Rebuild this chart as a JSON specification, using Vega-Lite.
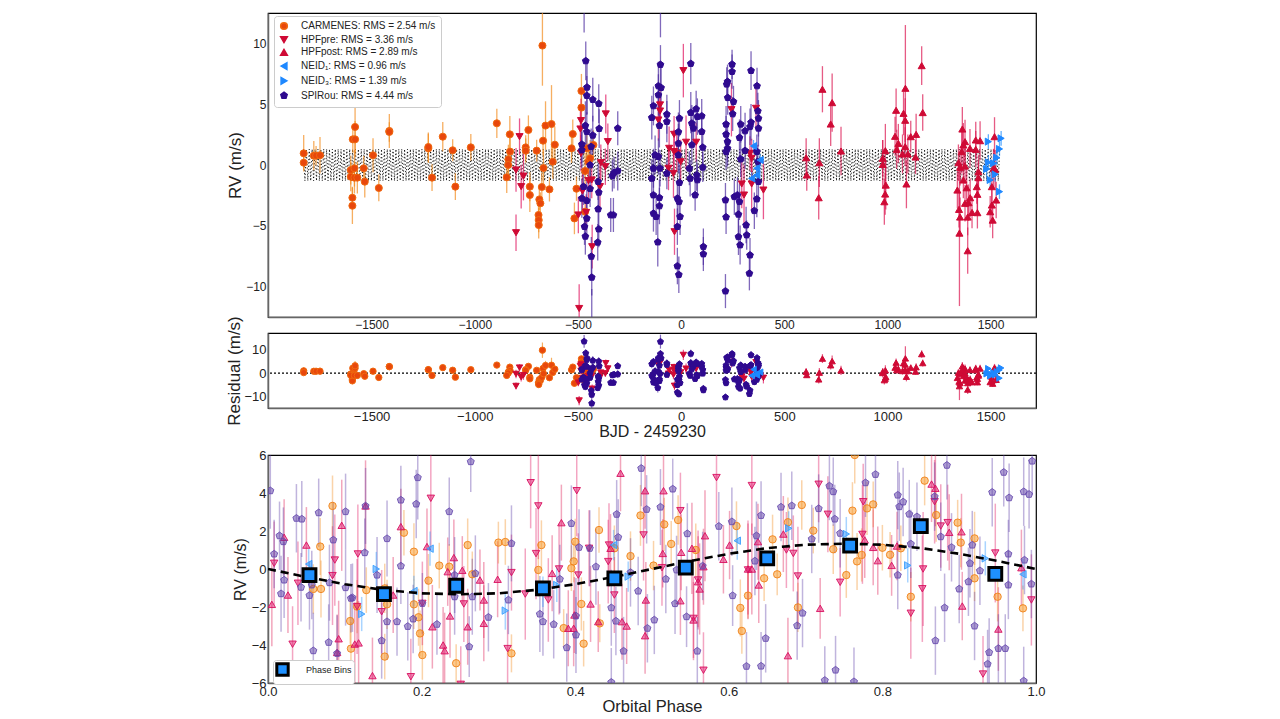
{"$schema":"https://vega.github.io/schema/vega-lite/v6.json","background":"white","padding":{"left":225,"top":12,"right":0,"bottom":0},"config":{"font":"Liberation Sans","view":{"stroke":"black","strokeWidth":1.2},"axis":{"grid":false,"ticks":false,"domainColor":"#666","domainWidth":1.5,"labelColor":"#222","titleColor":"#222","titleFontWeight":"normal","labelPadding":2,"labelFlush":false}},
"datasets":{
"zero":[{"y":0}],
"rv":[
{"s":"C","t":-1829,"v":0.96,"e":1.5},{"s":"C","t":-1829,"v":0.19,"e":0.6},{"s":"C","t":-1780,"v":0.77,"e":1.2},{"s":"C","t":-1769,"v":0.77,"e":0.8},{"s":"C","t":-1750,"v":0.8,"e":1.5},{"s":"C","t":-1593,"v":-2.69,"e":0.9},{"s":"C","t":-1593,"v":-3.35,"e":1.5},{"s":"C","t":-1601,"v":-0.41,"e":1.2},{"s":"C","t":-1583,"v":-0.27,"e":1.5},{"s":"C","t":-1601,"v":-0.96,"e":1.2},{"s":"C","t":-1583,"v":-1.04,"e":1.3},{"s":"C","t":-1569,"v":-1.04,"e":1.3},{"s":"C","t":-1591,"v":2.11,"e":1.1},{"s":"C","t":-1580,"v":2.11,"e":1.5},{"s":"C","t":-1580,"v":3.13,"e":2.1},{"s":"C","t":-1538,"v":-0.27,"e":1},{"s":"C","t":-1533,"v":-1.37,"e":1.3},{"s":"C","t":-1493,"v":0.8,"e":1.4},{"s":"C","t":-1465,"v":-1.89,"e":1.1},{"s":"C","t":-1414,"v":2.8,"e":1.4},{"s":"C","t":-1414,"v":2.72,"e":0.8},{"s":"C","t":-1225,"v":1.37,"e":1.2},{"s":"C","t":-1225,"v":1.48,"e":1.2},{"s":"C","t":-1207,"v":-1.04,"e":1.1},{"s":"C","t":-1155,"v":2.33,"e":1.2},{"s":"C","t":-1107,"v":1.21,"e":0.9},{"s":"C","t":-1094,"v":-1.78,"e":1.1},{"s":"C","t":-1019,"v":1.45,"e":1.1},{"s":"C","t":-893,"v":3.43,"e":1.2},{"s":"C","t":-830,"v":2.52,"e":1.5},{"s":"C","t":-829,"v":1.1,"e":1.3},{"s":"C","t":-837,"v":0.47,"e":1.2},{"s":"C","t":-838,"v":0,"e":1},{"s":"C","t":-845,"v":-1.01,"e":1.3},{"s":"C","t":-733,"v":-1.78,"e":1.2},{"s":"C","t":-733,"v":-2.47,"e":1.4},{"s":"C","t":-740,"v":2.88,"e":1.2},{"s":"C","t":-753,"v":1.45,"e":1},{"s":"C","t":-753,"v":1.18,"e":1},{"s":"C","t":-700,"v":1.18,"e":0.9},{"s":"C","t":-687,"v":-2.83,"e":0.9},{"s":"C","t":-682,"v":-3.15,"e":0.9},{"s":"C","t":-691,"v":-4.11,"e":1},{"s":"C","t":-690,"v":-4.53,"e":1},{"s":"C","t":-690,"v":-4.94,"e":1.1},{"s":"C","t":-675,"v":-1.81,"e":1.2},{"s":"C","t":-669,"v":2,"e":1.2},{"s":"C","t":-667,"v":-0.25,"e":1.5},{"s":"C","t":-672,"v":9.82,"e":3.3},{"s":"C","t":-638,"v":-2,"e":1},{"s":"C","t":-657,"v":3.24,"e":2},{"s":"C","t":-628,"v":3.37,"e":3.2},{"s":"C","t":-622,"v":0.27,"e":1.4},{"s":"C","t":-612,"v":1.67,"e":1.5},{"s":"C","t":-531,"v":1.37,"e":1.2},{"s":"C","t":-525,"v":2.55,"e":1.2},{"s":"C","t":-483,"v":6.09,"e":1.4},{"s":"C","t":-483,"v":4.72,"e":1.5},{"s":"C","t":-517,"v":-4.39,"e":1.3},{"s":"C","t":-507,"v":-1.95,"e":1},{"s":"C","t":-465,"v":-0.49,"e":1.5},{"s":"C","t":-449,"v":0.27,"e":1.5},{"s":"C","t":-441,"v":0.55,"e":1.5},{"s":"C","t":-457,"v":1.37,"e":1.2},{"s":"C","t":-425,"v":1.65,"e":1.2},{"s":"C","t":-465,"v":-3.84,"e":1.3},
{"s":"H","t":-800,"v":-5.57,"e":1.5},{"s":"H","t":-800,"v":-0.41,"e":1.8},{"s":"H","t":-783,"v":2.33,"e":1.5},{"s":"H","t":-775,"v":-1.78,"e":1.8},{"s":"H","t":-764,"v":-0.91,"e":2},{"s":"H","t":-485,"v":3.65,"e":1.8},{"s":"H","t":-488,"v":2.96,"e":1.6},{"s":"H","t":-494,"v":-11.8,"e":2},{"s":"H","t":-498,"v":-4.11,"e":1.5},{"s":"H","t":-478,"v":-2.14,"e":1.5},{"s":"H","t":-460,"v":-3.9,"e":1.5},{"s":"H","t":-449,"v":-1.29,"e":1.5},{"s":"H","t":-433,"v":-1.23,"e":1.5},{"s":"H","t":-431,"v":-6.72,"e":1.8},{"s":"H","t":-393,"v":-1.78,"e":1.8},{"s":"H","t":-389,"v":0.19,"e":1.5},{"s":"H","t":-367,"v":-0.14,"e":1.5},{"s":"H","t":-365,"v":4.2,"e":1.6},{"s":"H","t":-355,"v":1.92,"e":1.5},{"s":"H","t":-485,"v":0.96,"e":1.5},{"s":"H","t":-102,"v":4.94,"e":1.5},{"s":"H","t":-102,"v":4.44,"e":1.4},{"s":"H","t":-110,"v":3.7,"e":1.7},{"s":"H","t":-34,"v":2.52,"e":1.5},{"s":"H","t":-58,"v":1.37,"e":1.8},{"s":"H","t":-34,"v":1.1,"e":1.8},{"s":"H","t":-21,"v":0.96,"e":1.5},{"s":"H","t":-2,"v":0.27,"e":1.8},{"s":"H","t":-61,"v":-0.27,"e":1.8},{"s":"H","t":-37,"v":-0.69,"e":2},{"s":"H","t":24,"v":1.87,"e":2.2},{"s":"H","t":73,"v":1.87,"e":1.6},{"s":"H","t":11,"v":7.76,"e":2.2},{"s":"H","t":-32,"v":-5.49,"e":1.9},{"s":"H","t":244,"v":4.55,"e":2.2},{"s":"H","t":363,"v":4.66,"e":1.6},{"s":"H","t":334,"v":0.96,"e":1.4},{"s":"H","t":342,"v":0.55,"e":1.6},{"s":"H","t":294,"v":-1.56,"e":2},{"s":"H","t":305,"v":-2.47,"e":2.5},{"s":"H","t":342,"v":-1.56,"e":2.3},{"s":"H","t":399,"v":-2.06,"e":2.4},
{"s":"P","t":685,"v":6.23,"e":1.9},{"s":"P","t":732,"v":5.13,"e":2.4},{"s":"P","t":725,"v":3.37,"e":1.8},{"s":"P","t":775,"v":1.15,"e":2},{"s":"P","t":606,"v":0.6,"e":1.6},{"s":"P","t":609,"v":-0.82,"e":1.3},{"s":"P","t":670,"v":0.19,"e":2},{"s":"P","t":667,"v":-2.69,"e":1.8},{"s":"P","t":977,"v":0.55,"e":1.5},{"s":"P","t":977,"v":0.05,"e":2},{"s":"P","t":990,"v":1.18,"e":2.2},{"s":"P","t":992,"v":-1.65,"e":2},{"s":"P","t":989,"v":-2.39,"e":1.7},{"s":"P","t":985,"v":-3.02,"e":1.9},{"s":"P","t":1042,"v":4.5,"e":1.8},{"s":"P","t":1078,"v":4.25,"e":1.8},{"s":"P","t":1086,"v":3.68,"e":1.8},{"s":"P","t":1037,"v":2.36,"e":1.6},{"s":"P","t":1053,"v":1.78,"e":1.6},{"s":"P","t":1045,"v":1.29,"e":1.6},{"s":"P","t":1113,"v":2.33,"e":1.3},{"s":"P","t":1139,"v":2.52,"e":1.7},{"s":"P","t":1086,"v":1.51,"e":1.6},{"s":"P","t":1073,"v":0.91,"e":1.6},{"s":"P","t":1099,"v":0.91,"e":1.6},{"s":"P","t":1136,"v":0.66,"e":1.4},{"s":"P","t":1092,"v":-1.56,"e":2},{"s":"P","t":1087,"v":6.31,"e":5.2},{"s":"P","t":1166,"v":8.17,"e":1.6},{"s":"P","t":1171,"v":4.31,"e":1.5},{"s":"P","t":1363,"v":2.96,"e":1.8},{"s":"P","t":1376,"v":1.92,"e":1.8},{"s":"P","t":1368,"v":1.65,"e":1.8},{"s":"P","t":1360,"v":1.1,"e":1.8},{"s":"P","t":1400,"v":1.37,"e":1.6},{"s":"P","t":1428,"v":2.06,"e":1.5},{"s":"P","t":1428,"v":1.29,"e":1.5},{"s":"P","t":1449,"v":2,"e":1.6},{"s":"P","t":1344,"v":0.19,"e":1.5},{"s":"P","t":1352,"v":-0.19,"e":1.5},{"s":"P","t":1376,"v":-0.08,"e":1.5},{"s":"P","t":1368,"v":-1.23,"e":1.5},{"s":"P","t":1384,"v":-1.87,"e":1.6},{"s":"P","t":1339,"v":-2.06,"e":1.5},{"s":"P","t":1401,"v":-2.69,"e":1.6},{"s":"P","t":1376,"v":-3.15,"e":1.5},{"s":"P","t":1393,"v":-3.1,"e":1.5},{"s":"P","t":1347,"v":-3.65,"e":1.5},{"s":"P","t":1352,"v":-4.28,"e":1.6},{"s":"P","t":1389,"v":-4.28,"e":1.5},{"s":"P","t":1410,"v":-3.9,"e":1.3},{"s":"P","t":1436,"v":-3.92,"e":1.3},{"s":"P","t":1436,"v":-2.41,"e":1.5},{"s":"P","t":1433,"v":-1.78,"e":1.4},{"s":"P","t":1441,"v":-0.55,"e":1.4},{"s":"P","t":1441,"v":-1.04,"e":1.4},{"s":"P","t":1349,"v":-5.6,"e":6},{"s":"P","t":1389,"v":-7.05,"e":1.9},{"s":"P","t":1519,"v":2.33,"e":1.6},{"s":"P","t":1514,"v":-0.27,"e":1.6},{"s":"P","t":1522,"v":-0.36,"e":1.6},{"s":"P","t":1506,"v":-1.78,"e":1.5},{"s":"P","t":1506,"v":-3.29,"e":1.5},{"s":"P","t":1527,"v":-2.88,"e":1.5},{"s":"P","t":1498,"v":-3.84,"e":1.3},{"s":"P","t":1510,"v":-4.53,"e":1.5},
{"s":"S","t":-462,"v":8.56,"e":1.6},{"s":"S","t":-456,"v":6.39,"e":2.2},{"s":"S","t":-457,"v":5.71,"e":1.6},{"s":"S","t":-428,"v":5.38,"e":1.8},{"s":"S","t":-399,"v":5.05,"e":1.6},{"s":"S","t":-464,"v":3.24,"e":2},{"s":"S","t":-397,"v":2.99,"e":1.6},{"s":"S","t":-307,"v":3.02,"e":1.4},{"s":"S","t":-457,"v":2.74,"e":1.6},{"s":"S","t":-428,"v":2.44,"e":1.6},{"s":"S","t":-481,"v":1.7,"e":1.5},{"s":"S","t":-481,"v":1.23,"e":1.5},{"s":"S","t":-436,"v":1.51,"e":1.5},{"s":"S","t":-441,"v":0,"e":1.5},{"s":"S","t":-473,"v":-1.78,"e":1.5},{"s":"S","t":-402,"v":-1.37,"e":1.5},{"s":"S","t":-441,"v":-1.95,"e":1.5},{"s":"S","t":-481,"v":-2.74,"e":1.6},{"s":"S","t":-457,"v":-2.93,"e":1.6},{"s":"S","t":-399,"v":-2.25,"e":1.6},{"s":"S","t":-402,"v":-3.62,"e":1.6},{"s":"S","t":-457,"v":-4.39,"e":1.4},{"s":"S","t":-468,"v":-5.07,"e":1.5},{"s":"S","t":-399,"v":-5.27,"e":1.5},{"s":"S","t":-464,"v":-5.87,"e":1.5},{"s":"S","t":-404,"v":-6.36,"e":1.5},{"s":"S","t":-435,"v":-7.52,"e":1.6},{"s":"S","t":-433,"v":-9.24,"e":1.5},{"s":"S","t":-341,"v":-4.11,"e":1.4},{"s":"S","t":-328,"v":-4.11,"e":1.4},{"s":"S","t":-333,"v":-0.88,"e":1.3},{"s":"S","t":-325,"v":-0.63,"e":1.3},{"s":"S","t":-307,"v":-0.49,"e":1.6},{"s":"S","t":-470,"v":13.6,"e":2.7},{"s":"S","t":-433,"v":-13,"e":2.8},{"s":"S","t":-100,"v":8.26,"e":1.6},{"s":"S","t":-110,"v":6.5,"e":2},{"s":"S","t":-97,"v":6.36,"e":2},{"s":"S","t":-110,"v":5.76,"e":1.7},{"s":"S","t":-134,"v":4.86,"e":1.6},{"s":"S","t":-142,"v":3.9,"e":1.8},{"s":"S","t":-69,"v":4.17,"e":1.6},{"s":"S","t":-69,"v":3.57,"e":1.7},{"s":"S","t":-105,"v":3.24,"e":1.8},{"s":"S","t":-8,"v":3.84,"e":1.5},{"s":"S","t":-13,"v":2.72,"e":1.6},{"s":"S","t":47,"v":8.34,"e":1.7},{"s":"S","t":47,"v":4.31,"e":1.7},{"s":"S","t":73,"v":4.61,"e":1.5},{"s":"S","t":79,"v":3.98,"e":1.5},{"s":"S","t":52,"v":3.43,"e":1.5},{"s":"S","t":60,"v":3.02,"e":1.5},{"s":"S","t":100,"v":4.03,"e":1.4},{"s":"S","t":100,"v":2.74,"e":1.4},{"s":"S","t":-13,"v":1.78,"e":1.6},{"s":"S","t":52,"v":1.65,"e":1.6},{"s":"S","t":105,"v":1.45,"e":1.4},{"s":"S","t":40,"v":-0.27,"e":1.4},{"s":"S","t":44,"v":-1.1,"e":1.5},{"s":"S","t":76,"v":-0.82,"e":1.3},{"s":"S","t":79,"v":-1.23,"e":1.3},{"s":"S","t":105,"v":-0.19,"e":1.2},{"s":"S","t":68,"v":-2.47,"e":1.3},{"s":"S","t":-69,"v":-0.69,"e":1.3},{"s":"S","t":-126,"v":0.82,"e":1.6},{"s":"S","t":-110,"v":0.69,"e":1.5},{"s":"S","t":-134,"v":-0.27,"e":1.6},{"s":"S","t":-102,"v":-0.27,"e":1.5},{"s":"S","t":-142,"v":-1.1,"e":1.6},{"s":"S","t":-134,"v":-2.47,"e":1.5},{"s":"S","t":-105,"v":-2.69,"e":1.5},{"s":"S","t":-105,"v":-3.37,"e":1.5},{"s":"S","t":-134,"v":-3.98,"e":1.5},{"s":"S","t":-121,"v":-4.25,"e":1.5},{"s":"S","t":-113,"v":-6.34,"e":2},{"s":"S","t":-13,"v":0.82,"e":1.5},{"s":"S","t":-8,"v":-1.45,"e":1.5},{"s":"S","t":-18,"v":-2.74,"e":1.5},{"s":"S","t":-10,"v":-3.02,"e":1.5},{"s":"S","t":-5,"v":-4.25,"e":1.5},{"s":"S","t":-18,"v":-5.07,"e":1.5},{"s":"S","t":-18,"v":-8.31,"e":1.5},{"s":"S","t":-11,"v":-9.02,"e":1.5},{"s":"S","t":108,"v":-6.72,"e":1.5},{"s":"S","t":108,"v":-7.32,"e":1.4},{"s":"S","t":-100,"v":13.5,"e":3},{"s":"S","t":215,"v":-10.37,"e":1.4},{"s":"S","t":247,"v":8.28,"e":1.2},{"s":"S","t":247,"v":7.68,"e":1.4},{"s":"S","t":225,"v":6.86,"e":1.4},{"s":"S","t":221,"v":6.64,"e":1.4},{"s":"S","t":226,"v":5.54,"e":1.4},{"s":"S","t":254,"v":5.21,"e":1.3},{"s":"S","t":250,"v":4.2,"e":1.4},{"s":"S","t":218,"v":3.35,"e":1.5},{"s":"S","t":289,"v":3.35,"e":1.5},{"s":"S","t":218,"v":2.52,"e":1.5},{"s":"S","t":225,"v":1.92,"e":1.5},{"s":"S","t":225,"v":1.37,"e":1.5},{"s":"S","t":218,"v":1.1,"e":1.5},{"s":"S","t":283,"v":2.25,"e":1.5},{"s":"S","t":310,"v":2.8,"e":1.5},{"s":"S","t":339,"v":7.76,"e":1.6},{"s":"S","t":368,"v":6.5,"e":1.5},{"s":"S","t":372,"v":4.44,"e":1.5},{"s":"S","t":375,"v":3.84,"e":1.5},{"s":"S","t":339,"v":3.51,"e":1.5},{"s":"S","t":334,"v":3.15,"e":1.5},{"s":"S","t":375,"v":3.02,"e":1.5},{"s":"S","t":310,"v":1.18,"e":1.5},{"s":"S","t":289,"v":0.49,"e":1.5},{"s":"S","t":258,"v":-2.61,"e":1.5},{"s":"S","t":273,"v":-2.47,"e":1.5},{"s":"S","t":283,"v":-3.02,"e":1.5},{"s":"S","t":215,"v":-2.88,"e":1.4},{"s":"S","t":218,"v":-4.28,"e":1.4},{"s":"S","t":278,"v":-4.06,"e":1.5},{"s":"S","t":355,"v":-3.76,"e":1.5},{"s":"S","t":367,"v":-2.8,"e":1.5},{"s":"S","t":315,"v":-4.94,"e":1.5},{"s":"S","t":318,"v":-5.76,"e":1.2},{"s":"S","t":278,"v":-5.9,"e":1.5},{"s":"S","t":286,"v":-6.58,"e":1.6},{"s":"S","t":334,"v":-7.41,"e":1.4},{"s":"S","t":331,"v":-8.91,"e":1.4},{"s":"S","t":367,"v":1.1,"e":1.4},{"s":"S","t":372,"v":0.27,"e":1.4},{"s":"S","t":375,"v":-1.37,"e":1.4},
{"s":"N1","t":351,"v":1.56,"e":0.5},{"s":"N1","t":383,"v":0.41,"e":0.5},{"s":"N1","t":367,"v":-0.27,"e":0.5},{"s":"N1","t":367,"v":-0.82,"e":0.5},{"s":"N1","t":342,"v":-1.1,"e":0.5},{"s":"N3","t":1489,"v":1.92,"e":0.6},{"s":"N3","t":1551,"v":2.19,"e":0.6},{"s":"N3","t":1543,"v":1.32,"e":0.6},{"s":"N3","t":1530,"v":0.6,"e":0.6},{"s":"N3","t":1489,"v":0.22,"e":0.6},{"s":"N3","t":1514,"v":0.14,"e":0.5},{"s":"N3","t":1481,"v":-0.33,"e":0.6},{"s":"N3","t":1522,"v":-0.77,"e":0.6},{"s":"N3","t":1498,"v":-1.23,"e":0.6},{"s":"N3","t":1543,"v":-2.19,"e":0.6}
],
"phase":[
{"s":"C","p":0.084,"v":3.32,"e":1.6},{"s":"C","p":0.068,"v":1.18,"e":1.5},{"s":"C","p":0.059,"v":-1.05,"e":1.3},{"s":"C","p":0.069,"v":-1.05,"e":1.5},{"s":"C","p":0.107,"v":-2.74,"e":1.2},{"s":"C","p":0.108,"v":-4.19,"e":1.4},{"s":"C","p":0.116,"v":-1.98,"e":1.4},{"s":"C","p":0.128,"v":-1.11,"e":1.2},{"s":"C","p":0.152,"v":-4.61,"e":1.2},{"s":"C","p":0.155,"v":-1.86,"e":1.3},{"s":"C","p":0.152,"v":-1.02,"e":1.3},{"s":"C","p":0.177,"v":1.91,"e":1.2},{"s":"C","p":0.19,"v":0.91,"e":1.5},{"s":"C","p":0.19,"v":-1.86,"e":1.3},{"s":"C","p":0.196,"v":-2.54,"e":1.5},{"s":"C","p":0.198,"v":-3.39,"e":1.2},{"s":"C","p":0.201,"v":-4.53,"e":1.3},{"s":"C","p":0.209,"v":-0.61,"e":1.4},{"s":"C","p":0.223,"v":0.18,"e":1.2},{"s":"C","p":0.236,"v":0.12,"e":1.2},{"s":"C","p":0.245,"v":-4.96,"e":1},{"s":"C","p":0.26,"v":1.26,"e":1.4},{"s":"C","p":0.266,"v":-0.28,"e":1.2},{"s":"C","p":0.3,"v":1.39,"e":1.1},{"s":"C","p":0.309,"v":1.42,"e":1.2},{"s":"C","p":0.317,"v":-4.44,"e":1},{"s":"C","p":0.352,"v":-0.05,"e":1.4},{"s":"C","p":0.356,"v":1.26,"e":1.3},{"s":"C","p":0.385,"v":-3.11,"e":1},{"s":"C","p":0.395,"v":0.04,"e":1.2},{"s":"C","p":0.398,"v":0.4,"e":1.1},{"s":"C","p":0.4,"v":1.44,"e":1.2},{"s":"C","p":0.408,"v":-1.84,"e":1.4},{"s":"C","p":0.411,"v":-3.93,"e":1.2},{"s":"C","p":0.431,"v":2.05,"e":1.2},{"s":"C","p":0.432,"v":-2.86,"e":1},{"s":"C","p":0.451,"v":1.09,"e":1.2},{"s":"C","p":0.472,"v":0.68,"e":1.3},{"s":"C","p":0.485,"v":2.82,"e":1.6},{"s":"C","p":0.502,"v":0.18,"e":1.3},{"s":"C","p":0.516,"v":2.35,"e":1.4},{"s":"C","p":0.525,"v":1.32,"e":1.2},{"s":"C","p":0.534,"v":2.58,"e":1.3},{"s":"C","p":0.557,"v":1,"e":1.4},{"s":"C","p":0.61,"v":2.26,"e":1.3},{"s":"C","p":0.625,"v":-1.4,"e":1.2},{"s":"C","p":0.615,"v":-2.05,"e":1.5},{"s":"C","p":0.617,"v":-3.26,"e":1.2},{"s":"C","p":0.646,"v":-0.49,"e":1.2},{"s":"C","p":0.657,"v":1.56,"e":1.3},{"s":"C","p":0.663,"v":-0.28,"e":1.1},{"s":"C","p":0.677,"v":2.46,"e":1.3},{"s":"C","p":0.695,"v":3.37,"e":1.3},{"s":"C","p":0.69,"v":-2.02,"e":1.3},{"s":"C","p":0.71,"v":2.02,"e":1.2},{"s":"C","p":0.736,"v":1.04,"e":1.3},{"s":"C","p":0.753,"v":-0.32,"e":1.2},{"s":"C","p":0.761,"v":3.07,"e":1.5},{"s":"C","p":0.767,"v":0.4,"e":1.5},{"s":"C","p":0.773,"v":0.74,"e":1.4},{"s":"C","p":0.764,"v":6,"e":1.5},{"s":"C","p":0.78,"v":3.19,"e":1.4},{"s":"C","p":0.788,"v":3.4,"e":1.2},{"s":"C","p":0.8,"v":1.12,"e":1.2},{"s":"C","p":0.81,"v":0.75,"e":1.2},{"s":"C","p":0.824,"v":1.09,"e":1.2},{"s":"C","p":0.837,"v":-1.46,"e":1.3},{"s":"C","p":0.855,"v":4.65,"e":1.3},{"s":"C","p":0.87,"v":2.84,"e":1.4},{"s":"C","p":0.898,"v":2.44,"e":1.2},{"s":"C","p":0.902,"v":1.39,"e":1.3},{"s":"C","p":0.92,"v":1.61,"e":1.4},{"s":"C","p":0.92,"v":-0.49,"e":1.2},{"s":"C","p":0.95,"v":-1.46,"e":1.3},{"s":"C","p":0.983,"v":-2.07,"e":1.2},
{"s":"H","p":0.008,"v":0.3,"e":2.2},{"s":"H","p":0.039,"v":-0.75,"e":2.2},{"s":"H","p":0.032,"v":-3.96,"e":2},{"s":"H","p":0.087,"v":0.47,"e":2.4},{"s":"H","p":0.084,"v":-0.35,"e":2.6},{"s":"H","p":0.117,"v":0.79,"e":2.6},{"s":"H","p":0.116,"v":-1.98,"e":2.5},{"s":"H","p":0.148,"v":-2.25,"e":2.2},{"s":"H","p":0.186,"v":-5.67,"e":2},{"s":"H","p":0.212,"v":3.72,"e":2.6},{"s":"H","p":0.201,"v":-1.81,"e":2.2},{"s":"H","p":0.255,"v":-1.84,"e":2},{"s":"H","p":0.251,"v":-6.07,"e":2},{"s":"H","p":0.312,"v":-4.19,"e":2},{"s":"H","p":0.317,"v":-0.19,"e":2},{"s":"H","p":0.335,"v":-1.32,"e":2.4},{"s":"H","p":0.342,"v":4.54,"e":2.4},{"s":"H","p":0.352,"v":3.32,"e":2.8},{"s":"H","p":0.349,"v":0.81,"e":2.4},{"s":"H","p":0.365,"v":-1.63,"e":2.2},{"s":"H","p":0.379,"v":0,"e":2.4},{"s":"H","p":0.402,"v":4.12,"e":2.4},{"s":"H","p":0.404,"v":-0.32,"e":2.2},{"s":"H","p":0.418,"v":1.09,"e":2},{"s":"H","p":0.443,"v":0.39,"e":2.2},{"s":"H","p":0.444,"v":1.26,"e":2.2},{"s":"H","p":0.451,"v":-1.37,"e":2},{"s":"H","p":0.489,"v":1.79,"e":2.4},{"s":"H","p":0.513,"v":0.07,"e":2},{"s":"H","p":0.537,"v":3.07,"e":2},{"s":"H","p":0.56,"v":-0.58,"e":2.6},{"s":"H","p":0.554,"v":-2.6,"e":2.2},{"s":"H","p":0.567,"v":-5.33,"e":2},{"s":"H","p":0.584,"v":4.81,"e":2.4},{"s":"H","p":0.63,"v":4.39,"e":2.6},{"s":"H","p":0.625,"v":-0.05,"e":2.6},{"s":"H","p":0.675,"v":1,"e":2},{"s":"H","p":0.684,"v":0.82,"e":2},{"s":"H","p":0.69,"v":-0.37,"e":2.6},{"s":"H","p":0.717,"v":4.46,"e":2},{"s":"H","p":0.729,"v":2.88,"e":2},{"s":"H","p":0.745,"v":-0.7,"e":1.8},{"s":"H","p":0.774,"v":1.82,"e":2.6},{"s":"H","p":0.775,"v":3.54,"e":2},{"s":"H","p":0.837,"v":-2.33,"e":2.4},{"s":"H","p":0.853,"v":0,"e":3},{"s":"H","p":0.852,"v":-1.04,"e":2.8},{"s":"H","p":0.868,"v":3.54,"e":2.2},{"s":"H","p":0.876,"v":2.26,"e":2.2},{"s":"H","p":0.885,"v":2.44,"e":2},{"s":"H","p":0.931,"v":-5.53,"e":2},{"s":"H","p":0.947,"v":0.84,"e":2.6},{"s":"H","p":0.994,"v":-1.63,"e":2.4},
{"s":"P","p":0.005,"v":-1.86,"e":2.2},{"s":"P","p":0.026,"v":-1.37,"e":2},{"s":"P","p":0.021,"v":1.67,"e":2},{"s":"P","p":0.05,"v":1.26,"e":2},{"s":"P","p":0.096,"v":2.3,"e":2.4},{"s":"P","p":0.092,"v":-3.67,"e":2},{"s":"P","p":0.09,"v":-4.39,"e":2},{"s":"P","p":0.113,"v":-3.95,"e":2.2},{"s":"P","p":0.118,"v":-3.89,"e":2.2},{"s":"P","p":0.127,"v":3.32,"e":2.4},{"s":"P","p":0.136,"v":-5.61,"e":2},{"s":"P","p":0.163,"v":-1.37,"e":2},{"s":"P","p":0.173,"v":2.23,"e":2},{"s":"P","p":0.207,"v":1.18,"e":2},{"s":"P","p":0.214,"v":-3.04,"e":2.2},{"s":"P","p":0.228,"v":-4,"e":2},{"s":"P","p":0.23,"v":-4.3,"e":2},{"s":"P","p":0.237,"v":-2.47,"e":2.2},{"s":"P","p":0.242,"v":0.6,"e":2},{"s":"P","p":0.234,"v":-0.14,"e":1.8},{"s":"P","p":0.253,"v":-0.07,"e":1.8},{"s":"P","p":0.26,"v":-3.04,"e":2},{"s":"P","p":0.276,"v":-0.58,"e":1.6},{"s":"P","p":0.281,"v":-1.63,"e":2},{"s":"P","p":0.281,"v":-2.86,"e":2},{"s":"P","p":0.299,"v":-0.54,"e":2},{"s":"P","p":0.37,"v":-0.23,"e":2},{"s":"P","p":0.382,"v":2.44,"e":2},{"s":"P","p":0.391,"v":-3.12,"e":2},{"s":"P","p":0.398,"v":-3.12,"e":2},{"s":"P","p":0.399,"v":-2.42,"e":2},{"s":"P","p":0.42,"v":-1.84,"e":2},{"s":"P","p":0.43,"v":-2.77,"e":1.6},{"s":"P","p":0.446,"v":1.09,"e":1.8},{"s":"P","p":0.459,"v":5.04,"e":2},{"s":"P","p":0.461,"v":-2.77,"e":2},{"s":"P","p":0.467,"v":-3,"e":2},{"s":"P","p":0.491,"v":-3.51,"e":2},{"s":"P","p":0.491,"v":4.12,"e":2},{"s":"P","p":0.492,"v":-1.63,"e":2},{"s":"P","p":0.515,"v":4.12,"e":2},{"s":"P","p":0.514,"v":0.82,"e":1.8},{"s":"P","p":0.538,"v":0.88,"e":2},{"s":"P","p":0.537,"v":-1.67,"e":1.8},{"s":"P","p":0.552,"v":1.09,"e":2.4},{"s":"P","p":0.569,"v":1.75,"e":2.4},{"s":"P","p":0.567,"v":0.12,"e":2},{"s":"P","p":0.56,"v":-0.67,"e":2.4},{"s":"P","p":0.562,"v":-1.05,"e":2.4},{"s":"P","p":0.554,"v":-2.68,"e":2},{"s":"P","p":0.593,"v":0.51,"e":1.8},{"s":"P","p":0.601,"v":1.26,"e":1.8},{"s":"P","p":0.625,"v":0,"e":2.4},{"s":"P","p":0.63,"v":0,"e":2.4},{"s":"P","p":0.638,"v":1.44,"e":2},{"s":"P","p":0.639,"v":-0.84,"e":2},{"s":"P","p":0.671,"v":1.84,"e":2},{"s":"P","p":0.677,"v":-4.56,"e":2},{"s":"P","p":0.719,"v":-2.07,"e":1.6},{"s":"P","p":0.777,"v":1.53,"e":2},{"s":"P","p":0.788,"v":1.14,"e":2},{"s":"P","p":0.794,"v":0.44,"e":1.8},{"s":"P","p":0.812,"v":0.19,"e":1.6},{"s":"P","p":0.819,"v":1.21,"e":1.8},{"s":"P","p":0.864,"v":4.47,"e":2},{"s":"P","p":0.869,"v":4.25,"e":2},{"s":"P","p":0.887,"v":1.93,"e":2},{"s":"P","p":0.903,"v":1.96,"e":2},{"s":"P","p":0.904,"v":-1.95,"e":1.8},{"s":"P","p":0.951,"v":-3.16,"e":2.2},{"s":"P","p":0.981,"v":0.07,"e":2},
{"s":"S","p":0.003,"v":4.12,"e":2},{"s":"S","p":0.008,"v":0.79,"e":1.8},{"s":"S","p":0.015,"v":1.75,"e":1.8},{"s":"S","p":0.02,"v":1.44,"e":1.8},{"s":"S","p":0.021,"v":-0.58,"e":2},{"s":"S","p":0.017,"v":-1.3,"e":2},{"s":"S","p":0.037,"v":2.67,"e":1.8},{"s":"S","p":0.044,"v":2.63,"e":2},{"s":"S","p":0.043,"v":-0.96,"e":1.8},{"s":"S","p":0.054,"v":-1.39,"e":1.8},{"s":"S","p":0.059,"v":-4.3,"e":2},{"s":"S","p":0.066,"v":2.96,"e":1.8},{"s":"S","p":0.057,"v":-0.84,"e":1.8},{"s":"S","p":0.079,"v":-3.86,"e":2},{"s":"S","p":0.08,"v":-0.72,"e":2},{"s":"S","p":0.085,"v":1.53,"e":2},{"s":"S","p":0.09,"v":-4.44,"e":2},{"s":"S","p":0.101,"v":3.02,"e":2},{"s":"S","p":0.101,"v":-0.98,"e":2},{"s":"S","p":0.108,"v":-1.54,"e":1.8},{"s":"S","p":0.11,"v":-1.51,"e":1.8},{"s":"S","p":0.127,"v":3.32,"e":2},{"s":"S","p":0.126,"v":0.86,"e":1.8},{"s":"S","p":0.142,"v":-0.32,"e":2},{"s":"S","p":0.148,"v":-3.77,"e":2},{"s":"S","p":0.155,"v":1.6,"e":2},{"s":"S","p":0.155,"v":-2.77,"e":2},{"s":"S","p":0.168,"v":-2.77,"e":1.8},{"s":"S","p":0.173,"v":3.63,"e":1.8},{"s":"S","p":0.173,"v":0.16,"e":2},{"s":"S","p":0.182,"v":-3.02,"e":1.8},{"s":"S","p":0.189,"v":-2.63,"e":1.8},{"s":"S","p":0.193,"v":3.42,"e":1.8},{"s":"S","p":0.195,"v":4.81,"e":2.2},{"s":"S","p":0.201,"v":-1.81,"e":1.6},{"s":"S","p":0.22,"v":-2.91,"e":1.6},{"s":"S","p":0.236,"v":3.02,"e":1.8},{"s":"S","p":0.243,"v":-0.32,"e":2},{"s":"S","p":0.243,"v":-1.46,"e":2},{"s":"S","p":0.262,"v":-4.09,"e":1.6},{"s":"S","p":0.264,"v":5.65,"e":1.6},{"s":"S","p":0.266,"v":-1.46,"e":2},{"s":"S","p":0.27,"v":-0.23,"e":2},{"s":"S","p":0.287,"v":-2.54,"e":1.8},{"s":"S","p":0.313,"v":-1.63,"e":1.8},{"s":"S","p":0.317,"v":1.35,"e":2},{"s":"S","p":0.354,"v":-2.37,"e":2},{"s":"S","p":0.358,"v":-2.77,"e":1.8},{"s":"S","p":0.372,"v":-2.91,"e":1.8},{"s":"S","p":0.38,"v":-0.53,"e":1.8},{"s":"S","p":0.389,"v":-4.14,"e":1.8},{"s":"S","p":0.395,"v":2.4,"e":2},{"s":"S","p":0.401,"v":-2.47,"e":2},{"s":"S","p":0.401,"v":-3.47,"e":2},{"s":"S","p":0.405,"v":1.14,"e":2},{"s":"S","p":0.419,"v":1.09,"e":2},{"s":"S","p":0.427,"v":0.12,"e":2},{"s":"S","p":0.447,"v":-2.04,"e":2},{"s":"S","p":0.447,"v":-5.96,"e":1.8},{"s":"S","p":0.453,"v":-2.74,"e":1.8},{"s":"S","p":0.454,"v":2.88,"e":1.8},{"s":"S","p":0.456,"v":1.67,"e":2},{"s":"S","p":0.463,"v":-4.32,"e":1.8},{"s":"S","p":0.472,"v":-0.18,"e":1.8},{"s":"S","p":0.482,"v":-1.16,"e":1.8},{"s":"S","p":0.486,"v":5.3,"e":2},{"s":"S","p":0.493,"v":3.14,"e":1.8},{"s":"S","p":0.494,"v":-3.12,"e":1.8},{"s":"S","p":0.527,"v":4.21,"e":1.6},{"s":"S","p":0.511,"v":3.26,"e":2},{"s":"S","p":0.518,"v":-0.53,"e":1.8},{"s":"S","p":0.53,"v":-1.82,"e":1.6},{"s":"S","p":0.503,"v":-2.68,"e":1.8},{"s":"S","p":0.532,"v":-0.05,"e":1.8},{"s":"S","p":0.545,"v":-2.51,"e":1.6},{"s":"S","p":0.546,"v":1.86,"e":1.6},{"s":"S","p":0.559,"v":-4.32,"e":1.8},{"s":"S","p":0.566,"v":0.16,"e":1.8},{"s":"S","p":0.587,"v":2.25,"e":1.8},{"s":"S","p":0.604,"v":2.49,"e":1.8},{"s":"S","p":0.605,"v":-1.4,"e":1.6},{"s":"S","p":0.623,"v":-5.12,"e":1.8},{"s":"S","p":0.634,"v":0.42,"e":1.8},{"s":"S","p":0.636,"v":1.75,"e":1.8},{"s":"S","p":0.642,"v":-5.11,"e":1.8},{"s":"S","p":0.642,"v":2.82,"e":1.8},{"s":"S","p":0.648,"v":-3.65,"e":1.8},{"s":"S","p":0.668,"v":3.26,"e":1.8},{"s":"S","p":0.682,"v":3.33,"e":1.8},{"s":"S","p":0.689,"v":-2.98,"e":1.8},{"s":"S","p":0.696,"v":-2.32,"e":1.8},{"s":"S","p":0.708,"v":1.58,"e":1.8},{"s":"S","p":0.717,"v":3.18,"e":1.8},{"s":"S","p":0.725,"v":-5.86,"e":1.8},{"s":"S","p":0.731,"v":4.37,"e":1.8},{"s":"S","p":0.736,"v":4.07,"e":1.8},{"s":"S","p":0.739,"v":-5.32,"e":1.8},{"s":"S","p":0.738,"v":2.63,"e":1.8},{"s":"S","p":0.745,"v":1.88,"e":1.8},{"s":"S","p":0.763,"v":-5.93,"e":1.8},{"s":"S","p":0.778,"v":4.54,"e":1.8},{"s":"S","p":0.791,"v":4.98,"e":1.8},{"s":"S","p":0.82,"v":-0.32,"e":1.8},{"s":"S","p":0.82,"v":3.89,"e":1.8},{"s":"S","p":0.822,"v":3.28,"e":1.8},{"s":"S","p":0.827,"v":3.53,"e":1.8},{"s":"S","p":0.835,"v":2.89,"e":1.8},{"s":"S","p":0.837,"v":1.32,"e":1.8},{"s":"S","p":0.845,"v":2.75,"e":1.8},{"s":"S","p":0.868,"v":3.81,"e":1.8},{"s":"S","p":0.869,"v":-3.77,"e":1.8},{"s":"S","p":0.876,"v":1.7,"e":1.8},{"s":"S","p":0.881,"v":-2.04,"e":1.8},{"s":"S","p":0.884,"v":5.46,"e":1.8},{"s":"S","p":0.89,"v":1.14,"e":1.8},{"s":"S","p":0.9,"v":-1.05,"e":1.8},{"s":"S","p":0.912,"v":-0.67,"e":1.8},{"s":"S","p":0.914,"v":0.3,"e":1.8},{"s":"S","p":0.917,"v":1.26,"e":1.8},{"s":"S","p":0.92,"v":-3,"e":1.8},{"s":"S","p":0.927,"v":-0.09,"e":1.8},{"s":"S","p":0.937,"v":-5,"e":1.8},{"s":"S","p":0.939,"v":-4.39,"e":1.8},{"s":"S","p":0.943,"v":4.04,"e":1.8},{"s":"S","p":0.951,"v":-4.18,"e":1.8},{"s":"S","p":0.958,"v":5.09,"e":1.8},{"s":"S","p":0.96,"v":-4.18,"e":1.8},{"s":"S","p":0.964,"v":0.79,"e":1.8},{"s":"S","p":0.965,"v":3.75,"e":1.8},{"s":"S","p":0.964,"v":-0.84,"e":1.8},{"s":"S","p":0.984,"v":4.07,"e":1.8},{"s":"S","p":0.985,"v":0.47,"e":1.8},{"s":"S","p":0.984,"v":-5.89,"e":1.8},{"s":"S","p":0.991,"v":3.93,"e":1.8},{"s":"S","p":0.994,"v":-0.79,"e":1.8},{"s":"S","p":0.995,"v":5.68,"e":1.8},
{"s":"N1","p":0.053,"v":0.26,"e":0.8},{"s":"N1","p":0.19,"v":-1.16,"e":0.8},{"s":"N1","p":0.211,"v":1.07,"e":0.9},{"s":"N1","p":0.45,"v":1.26,"e":0.8},{"s":"N1","p":0.611,"v":1.49,"e":1},{"s":"N1","p":0.983,"v":-0.28,"e":0.8},{"s":"N3","p":0.141,"v":0,"e":0.9},{"s":"N3","p":0.122,"v":-2.37,"e":0.9},{"s":"N3","p":0.309,"v":-2.19,"e":1},{"s":"N3","p":0.376,"v":-0.84,"e":0.9},{"s":"N3","p":0.469,"v":-0.4,"e":0.8},{"s":"N3","p":0.678,"v":2.14,"e":0.9},{"s":"N3","p":0.753,"v":1.84,"e":0.9},{"s":"N3","p":0.833,"v":0.19,"e":0.9},{"s":"N3","p":0.934,"v":0.56,"e":0.9},{"s":"N3","p":0.358,"v":-1.2,"e":0.8}
],
"bins":[{"s":"Phase Bins","p":0.054,"v":-0.32},{"s":"Phase Bins","p":0.151,"v":-1.32},{"s":"Phase Bins","p":0.245,"v":-0.88},{"s":"Phase Bins","p":0.358,"v":-1.02},{"s":"Phase Bins","p":0.451,"v":-0.49},{"s":"Phase Bins","p":0.544,"v":0.07},{"s":"Phase Bins","p":0.65,"v":0.56},{"s":"Phase Bins","p":0.758,"v":1.23},{"s":"Phase Bins","p":0.85,"v":2.26},{"s":"Phase Bins","p":0.947,"v":-0.26}],
"curve":[{"p":0,"m":0},{"p":0.05,"m":-0.42},{"p":0.1,"m":-0.8},{"p":0.15,"m":-1.1},{"p":0.2,"m":-1.28},{"p":0.25,"m":-1.33},{"p":0.3,"m":-1.28},{"p":0.35,"m":-1.1},{"p":0.4,"m":-0.8},{"p":0.45,"m":-0.42},{"p":0.5,"m":0},{"p":0.55,"m":0.42},{"p":0.6,"m":0.8},{"p":0.65,"m":1.1},{"p":0.7,"m":1.28},{"p":0.75,"m":1.33},{"p":0.8,"m":1.28},{"p":0.85,"m":1.1},{"p":0.9,"m":0.8},{"p":0.95,"m":0.42},{"p":1,"m":0}],
"model":[{"t":-1830,"m":1.3},{"t":-1823,"m":-1.3},{"t":-1816,"m":1.3},{"t":-1809,"m":-1.3},{"t":-1802,"m":1.3},{"t":-1795,"m":-1.3},{"t":-1788,"m":1.3},{"t":-1781,"m":-1.3},{"t":-1774,"m":1.3},{"t":-1767,"m":-1.3},{"t":-1760,"m":1.3},{"t":-1753,"m":-1.3},{"t":-1746,"m":1.3},{"t":-1739,"m":-1.3},{"t":-1732,"m":1.3},{"t":-1725,"m":-1.3},{"t":-1718,"m":1.3},{"t":-1711,"m":-1.3},{"t":-1704,"m":1.3},{"t":-1697,"m":-1.3},{"t":-1690,"m":1.3},{"t":-1683,"m":-1.3},{"t":-1676,"m":1.3},{"t":-1669,"m":-1.3},{"t":-1662,"m":1.3},{"t":-1655,"m":-1.3},{"t":-1648,"m":1.3},{"t":-1641,"m":-1.3},{"t":-1634,"m":1.3},{"t":-1627,"m":-1.3},{"t":-1620,"m":1.3},{"t":-1613,"m":-1.3},{"t":-1606,"m":1.3},{"t":-1599,"m":-1.3},{"t":-1592,"m":1.3},{"t":-1585,"m":-1.3},{"t":-1578,"m":1.3},{"t":-1571,"m":-1.3},{"t":-1564,"m":1.3},{"t":-1557,"m":-1.3},{"t":-1550,"m":1.3},{"t":-1543,"m":-1.3},{"t":-1536,"m":1.3},{"t":-1529,"m":-1.3},{"t":-1522,"m":1.3},{"t":-1515,"m":-1.3},{"t":-1508,"m":1.3},{"t":-1501,"m":-1.3},{"t":-1494,"m":1.3},{"t":-1487,"m":-1.3},{"t":-1480,"m":1.3},{"t":-1473,"m":-1.3},{"t":-1466,"m":1.3},{"t":-1459,"m":-1.3},{"t":-1452,"m":1.3},{"t":-1445,"m":-1.3},{"t":-1438,"m":1.3},{"t":-1431,"m":-1.3},{"t":-1424,"m":1.3},{"t":-1417,"m":-1.3},{"t":-1410,"m":1.3},{"t":-1403,"m":-1.3},{"t":-1396,"m":1.3},{"t":-1389,"m":-1.3},{"t":-1382,"m":1.3},{"t":-1375,"m":-1.3},{"t":-1368,"m":1.3},{"t":-1361,"m":-1.3},{"t":-1354,"m":1.3},{"t":-1347,"m":-1.3},{"t":-1340,"m":1.3},{"t":-1333,"m":-1.3},{"t":-1326,"m":1.3},{"t":-1319,"m":-1.3},{"t":-1312,"m":1.3},{"t":-1305,"m":-1.3},{"t":-1298,"m":1.3},{"t":-1291,"m":-1.3},{"t":-1284,"m":1.3},{"t":-1277,"m":-1.3},{"t":-1270,"m":1.3},{"t":-1263,"m":-1.3},{"t":-1256,"m":1.3},{"t":-1249,"m":-1.3},{"t":-1242,"m":1.3},{"t":-1235,"m":-1.3},{"t":-1228,"m":1.3},{"t":-1221,"m":-1.3},{"t":-1214,"m":1.3},{"t":-1207,"m":-1.3},{"t":-1200,"m":1.3},{"t":-1193,"m":-1.3},{"t":-1186,"m":1.3},{"t":-1179,"m":-1.3},{"t":-1172,"m":1.3},{"t":-1165,"m":-1.3},{"t":-1158,"m":1.3},{"t":-1151,"m":-1.3},{"t":-1144,"m":1.3},{"t":-1137,"m":-1.3},{"t":-1130,"m":1.3},{"t":-1123,"m":-1.3},{"t":-1116,"m":1.3},{"t":-1109,"m":-1.3},{"t":-1102,"m":1.3},{"t":-1095,"m":-1.3},{"t":-1088,"m":1.3},{"t":-1081,"m":-1.3},{"t":-1074,"m":1.3},{"t":-1067,"m":-1.3},{"t":-1060,"m":1.3},{"t":-1053,"m":-1.3},{"t":-1046,"m":1.3},{"t":-1039,"m":-1.3},{"t":-1032,"m":1.3},{"t":-1025,"m":-1.3},{"t":-1018,"m":1.3},{"t":-1011,"m":-1.3},{"t":-1004,"m":1.3},{"t":-997,"m":-1.3},{"t":-990,"m":1.3},{"t":-983,"m":-1.3},{"t":-976,"m":1.3},{"t":-969,"m":-1.3},{"t":-962,"m":1.3},{"t":-955,"m":-1.3},{"t":-948,"m":1.3},{"t":-941,"m":-1.3},{"t":-934,"m":1.3},{"t":-927,"m":-1.3},{"t":-920,"m":1.3},{"t":-913,"m":-1.3},{"t":-906,"m":1.3},{"t":-899,"m":-1.3},{"t":-892,"m":1.3},{"t":-885,"m":-1.3},{"t":-878,"m":1.3},{"t":-871,"m":-1.3},{"t":-864,"m":1.3},{"t":-857,"m":-1.3},{"t":-850,"m":1.3},{"t":-843,"m":-1.3},{"t":-836,"m":1.3},{"t":-829,"m":-1.3},{"t":-822,"m":1.3},{"t":-815,"m":-1.3},{"t":-808,"m":1.3},{"t":-801,"m":-1.3},{"t":-794,"m":1.3},{"t":-787,"m":-1.3},{"t":-780,"m":1.3},{"t":-773,"m":-1.3},{"t":-766,"m":1.3},{"t":-759,"m":-1.3},{"t":-752,"m":1.3},{"t":-745,"m":-1.3},{"t":-738,"m":1.3},{"t":-731,"m":-1.3},{"t":-724,"m":1.3},{"t":-717,"m":-1.3},{"t":-710,"m":1.3},{"t":-703,"m":-1.3},{"t":-696,"m":1.3},{"t":-689,"m":-1.3},{"t":-682,"m":1.3},{"t":-675,"m":-1.3},{"t":-668,"m":1.3},{"t":-661,"m":-1.3},{"t":-654,"m":1.3},{"t":-647,"m":-1.3},{"t":-640,"m":1.3},{"t":-633,"m":-1.3},{"t":-626,"m":1.3},{"t":-619,"m":-1.3},{"t":-612,"m":1.3},{"t":-605,"m":-1.3},{"t":-598,"m":1.3},{"t":-591,"m":-1.3},{"t":-584,"m":1.3},{"t":-577,"m":-1.3},{"t":-570,"m":1.3},{"t":-563,"m":-1.3},{"t":-556,"m":1.3},{"t":-549,"m":-1.3},{"t":-542,"m":1.3},{"t":-535,"m":-1.3},{"t":-528,"m":1.3},{"t":-521,"m":-1.3},{"t":-514,"m":1.3},{"t":-507,"m":-1.3},{"t":-500,"m":1.3},{"t":-493,"m":-1.3},{"t":-486,"m":1.3},{"t":-479,"m":-1.3},{"t":-472,"m":1.3},{"t":-465,"m":-1.3},{"t":-458,"m":1.3},{"t":-451,"m":-1.3},{"t":-444,"m":1.3},{"t":-437,"m":-1.3},{"t":-430,"m":1.3},{"t":-423,"m":-1.3},{"t":-416,"m":1.3},{"t":-409,"m":-1.3},{"t":-402,"m":1.3},{"t":-395,"m":-1.3},{"t":-388,"m":1.3},{"t":-381,"m":-1.3},{"t":-374,"m":1.3},{"t":-367,"m":-1.3},{"t":-360,"m":1.3},{"t":-353,"m":-1.3},{"t":-346,"m":1.3},{"t":-339,"m":-1.3},{"t":-332,"m":1.3},{"t":-325,"m":-1.3},{"t":-318,"m":1.3},{"t":-311,"m":-1.3},{"t":-304,"m":1.3},{"t":-297,"m":-1.3},{"t":-290,"m":1.3},{"t":-283,"m":-1.3},{"t":-276,"m":1.3},{"t":-269,"m":-1.3},{"t":-262,"m":1.3},{"t":-255,"m":-1.3},{"t":-248,"m":1.3},{"t":-241,"m":-1.3},{"t":-234,"m":1.3},{"t":-227,"m":-1.3},{"t":-220,"m":1.3},{"t":-213,"m":-1.3},{"t":-206,"m":1.3},{"t":-199,"m":-1.3},{"t":-192,"m":1.3},{"t":-185,"m":-1.3},{"t":-178,"m":1.3},{"t":-171,"m":-1.3},{"t":-164,"m":1.3},{"t":-157,"m":-1.3},{"t":-150,"m":1.3},{"t":-143,"m":-1.3},{"t":-136,"m":1.3},{"t":-129,"m":-1.3},{"t":-122,"m":1.3},{"t":-115,"m":-1.3},{"t":-108,"m":1.3},{"t":-101,"m":-1.3},{"t":-94,"m":1.3},{"t":-87,"m":-1.3},{"t":-80,"m":1.3},{"t":-73,"m":-1.3},{"t":-66,"m":1.3},{"t":-59,"m":-1.3},{"t":-52,"m":1.3},{"t":-45,"m":-1.3},{"t":-38,"m":1.3},{"t":-31,"m":-1.3},{"t":-24,"m":1.3},{"t":-17,"m":-1.3},{"t":-10,"m":1.3},{"t":-3,"m":-1.3},{"t":4,"m":1.3},{"t":11,"m":-1.3},{"t":18,"m":1.3},{"t":25,"m":-1.3},{"t":32,"m":1.3},{"t":39,"m":-1.3},{"t":46,"m":1.3},{"t":53,"m":-1.3},{"t":60,"m":1.3},{"t":67,"m":-1.3},{"t":74,"m":1.3},{"t":81,"m":-1.3},{"t":88,"m":1.3},{"t":95,"m":-1.3},{"t":102,"m":1.3},{"t":109,"m":-1.3},{"t":116,"m":1.3},{"t":123,"m":-1.3},{"t":130,"m":1.3},{"t":137,"m":-1.3},{"t":144,"m":1.3},{"t":151,"m":-1.3},{"t":158,"m":1.3},{"t":165,"m":-1.3},{"t":172,"m":1.3},{"t":179,"m":-1.3},{"t":186,"m":1.3},{"t":193,"m":-1.3},{"t":200,"m":1.3},{"t":207,"m":-1.3},{"t":214,"m":1.3},{"t":221,"m":-1.3},{"t":228,"m":1.3},{"t":235,"m":-1.3},{"t":242,"m":1.3},{"t":249,"m":-1.3},{"t":256,"m":1.3},{"t":263,"m":-1.3},{"t":270,"m":1.3},{"t":277,"m":-1.3},{"t":284,"m":1.3},{"t":291,"m":-1.3},{"t":298,"m":1.3},{"t":305,"m":-1.3},{"t":312,"m":1.3},{"t":319,"m":-1.3},{"t":326,"m":1.3},{"t":333,"m":-1.3},{"t":340,"m":1.3},{"t":347,"m":-1.3},{"t":354,"m":1.3},{"t":361,"m":-1.3},{"t":368,"m":1.3},{"t":375,"m":-1.3},{"t":382,"m":1.3},{"t":389,"m":-1.3},{"t":396,"m":1.3},{"t":403,"m":-1.3},{"t":410,"m":1.3},{"t":417,"m":-1.3},{"t":424,"m":1.3},{"t":431,"m":-1.3},{"t":438,"m":1.3},{"t":445,"m":-1.3},{"t":452,"m":1.3},{"t":459,"m":-1.3},{"t":466,"m":1.3},{"t":473,"m":-1.3},{"t":480,"m":1.3},{"t":487,"m":-1.3},{"t":494,"m":1.3},{"t":501,"m":-1.3},{"t":508,"m":1.3},{"t":515,"m":-1.3},{"t":522,"m":1.3},{"t":529,"m":-1.3},{"t":536,"m":1.3},{"t":543,"m":-1.3},{"t":550,"m":1.3},{"t":557,"m":-1.3},{"t":564,"m":1.3},{"t":571,"m":-1.3},{"t":578,"m":1.3},{"t":585,"m":-1.3},{"t":592,"m":1.3},{"t":599,"m":-1.3},{"t":606,"m":1.3},{"t":613,"m":-1.3},{"t":620,"m":1.3},{"t":627,"m":-1.3},{"t":634,"m":1.3},{"t":641,"m":-1.3},{"t":648,"m":1.3},{"t":655,"m":-1.3},{"t":662,"m":1.3},{"t":669,"m":-1.3},{"t":676,"m":1.3},{"t":683,"m":-1.3},{"t":690,"m":1.3},{"t":697,"m":-1.3},{"t":704,"m":1.3},{"t":711,"m":-1.3},{"t":718,"m":1.3},{"t":725,"m":-1.3},{"t":732,"m":1.3},{"t":739,"m":-1.3},{"t":746,"m":1.3},{"t":753,"m":-1.3},{"t":760,"m":1.3},{"t":767,"m":-1.3},{"t":774,"m":1.3},{"t":781,"m":-1.3},{"t":788,"m":1.3},{"t":795,"m":-1.3},{"t":802,"m":1.3},{"t":809,"m":-1.3},{"t":816,"m":1.3},{"t":823,"m":-1.3},{"t":830,"m":1.3},{"t":837,"m":-1.3},{"t":844,"m":1.3},{"t":851,"m":-1.3},{"t":858,"m":1.3},{"t":865,"m":-1.3},{"t":872,"m":1.3},{"t":879,"m":-1.3},{"t":886,"m":1.3},{"t":893,"m":-1.3},{"t":900,"m":1.3},{"t":907,"m":-1.3},{"t":914,"m":1.3},{"t":921,"m":-1.3},{"t":928,"m":1.3},{"t":935,"m":-1.3},{"t":942,"m":1.3},{"t":949,"m":-1.3},{"t":956,"m":1.3},{"t":963,"m":-1.3},{"t":970,"m":1.3},{"t":977,"m":-1.3},{"t":984,"m":1.3},{"t":991,"m":-1.3},{"t":998,"m":1.3},{"t":1005,"m":-1.3},{"t":1012,"m":1.3},{"t":1019,"m":-1.3},{"t":1026,"m":1.3},{"t":1033,"m":-1.3},{"t":1040,"m":1.3},{"t":1047,"m":-1.3},{"t":1054,"m":1.3},{"t":1061,"m":-1.3},{"t":1068,"m":1.3},{"t":1075,"m":-1.3},{"t":1082,"m":1.3},{"t":1089,"m":-1.3},{"t":1096,"m":1.3},{"t":1103,"m":-1.3},{"t":1110,"m":1.3},{"t":1117,"m":-1.3},{"t":1124,"m":1.3},{"t":1131,"m":-1.3},{"t":1138,"m":1.3},{"t":1145,"m":-1.3},{"t":1152,"m":1.3},{"t":1159,"m":-1.3},{"t":1166,"m":1.3},{"t":1173,"m":-1.3},{"t":1180,"m":1.3},{"t":1187,"m":-1.3},{"t":1194,"m":1.3},{"t":1201,"m":-1.3},{"t":1208,"m":1.3},{"t":1215,"m":-1.3},{"t":1222,"m":1.3},{"t":1229,"m":-1.3},{"t":1236,"m":1.3},{"t":1243,"m":-1.3},{"t":1250,"m":1.3},{"t":1257,"m":-1.3},{"t":1264,"m":1.3},{"t":1271,"m":-1.3},{"t":1278,"m":1.3},{"t":1285,"m":-1.3},{"t":1292,"m":1.3},{"t":1299,"m":-1.3},{"t":1306,"m":1.3},{"t":1313,"m":-1.3},{"t":1320,"m":1.3},{"t":1327,"m":-1.3},{"t":1334,"m":1.3},{"t":1341,"m":-1.3},{"t":1348,"m":1.3},{"t":1355,"m":-1.3},{"t":1362,"m":1.3},{"t":1369,"m":-1.3},{"t":1376,"m":1.3},{"t":1383,"m":-1.3},{"t":1390,"m":1.3},{"t":1397,"m":-1.3},{"t":1404,"m":1.3},{"t":1411,"m":-1.3},{"t":1418,"m":1.3},{"t":1425,"m":-1.3},{"t":1432,"m":1.3},{"t":1439,"m":-1.3},{"t":1446,"m":1.3},{"t":1453,"m":-1.3},{"t":1460,"m":1.3},{"t":1467,"m":-1.3},{"t":1474,"m":1.3},{"t":1481,"m":-1.3},{"t":1488,"m":1.3},{"t":1495,"m":-1.3},{"t":1502,"m":1.3},{"t":1509,"m":-1.3},{"t":1516,"m":1.3},{"t":1523,"m":-1.3},{"t":1530,"m":1.3},{"t":1537,"m":-1.3},{"t":1544,"m":1.3}]
},
"spacing":8,
"resolve":{"scale":{"color":"independent","fill":"independent","stroke":"independent","shape":"independent"}},
"vconcat":[
{"bounds":"flush","spacing":16,
"resolve":{"scale":{"color":"independent","fill":"independent","stroke":"independent","shape":"independent"}},
"vconcat":[
{"width":768,"height":304,"layer":[
{"data":{"name":"model"},"mark":{"type":"line","color":"black","strokeWidth":0.9,"strokeDash":[1.2,2.2],"clip":true},"encoding":{"x":{"field":"t","type":"quantitative","title":null,"scale":{"domain":[-2002,1720],"nice":false,"zero":false},"axis":{"values":[-1500,-1000,-500,0,500,1000,1500],"format":"d","labelOverlap":false,"labelFontSize":12}},"y":{"field":"m","type":"quantitative","title":"RV (m/s)","scale":{"domain":[-12.5,12.5],"nice":false,"zero":false},"axis":{"values":[-10,-5,0,5,10],"labelOverlap":false,"labelFontSize":12,"titleFontSize":17,"titlePadding":1}}}},
{"data":{"name":"rv"},"mark":{"type":"errorbar","clip":true,"rule":{"strokeWidth":1.3,"opacity":0.7}},"encoding":{"x":{"field":"t","type":"quantitative","title":null},"y":{"field":"v","type":"quantitative","title":"RV (m/s)"},"yError":{"field":"e"},"color":{"field":"s","type":"nominal","legend":null,"scale":{"domain":["C","H","P","S","N1","N3"],"range":["#f28c1e","#e0125e","#dc1650","#4a2a9e","#1e8fff","#1e8fff"]}}}},
{"data":{"name":"rv"},"mark":{"type":"point","filled":true,"clip":true,"size":50,"strokeWidth":1,"opacity":1},"encoding":{"x":{"field":"t","type":"quantitative","title":null},"y":{"field":"v","type":"quantitative","title":"RV (m/s)"},
"fill":{"field":"s","type":"nominal","scale":{"domain":["C","H","P","N1","N3","S"],"range":["#e8470c","#cf0a35","#cf0a35","#1e88ff","#1e88ff","#2f0a8f"]},"legend":{"title":null,"orient":"none","legendX":6,"legendY":3,"fillColor":"white","strokeColor":"#ccc","cornerRadius":3,"padding":5,"symbolSize":45,"labelFontSize":10,"labelColor":"#222","labelLimit":300,"labelOffset":12,"rowPadding":0.7,"labelExpr":"{'C':'CARMENES: RMS = 2.54 m/s','H':'HPFpre: RMS = 3.36 m/s','P':'HPFpost: RMS = 2.89 m/s','N1':'NEID₁: RMS = 0.96 m/s','N3':'NEID₃: RMS = 1.39 m/s','S':'SPIRou: RMS = 4.44 m/s'}[datum.label]"}},
"stroke":{"field":"s","type":"nominal","scale":{"domain":["C","H","P","N1","N3","S"],"range":["#f06a10","#cf0a35","#cf0a35","#1e88ff","#1e88ff","#2f0a8f"]}},
"shape":{"field":"s","type":"nominal","scale":{"domain":["C","H","P","N1","N3","S"],"range":["circle","triangle-down","triangle-up","triangle-left","triangle-right","M0,-1L0.95,-0.31L0.59,0.81L-0.59,0.81L-0.95,-0.31Z"]}}}}
]},
{"width":768,"height":75,"layer":[
{"data":{"name":"zero"},"mark":{"type":"rule","color":"black","strokeWidth":1.2,"strokeDash":[2,2]},"encoding":{"y":{"field":"y","type":"quantitative","title":"Residual (m/s)","scale":{"domain":[-15,17.2],"nice":false,"zero":false},"axis":{"values":[-10,0,10],"tickCount":10,"labelOverlap":false,"labelFontSize":13,"titleFontSize":17,"titlePadding":0}}}},
{"data":{"name":"rv"},"mark":{"type":"errorbar","clip":true,"rule":{"strokeWidth":1.2,"opacity":0.7}},"encoding":{"x":{"field":"t","type":"quantitative","title":"BJD - 2459230","scale":{"domain":[-2002,1720],"nice":false,"zero":false},"axis":{"values":[-1500,-1000,-500,0,500,1000,1500],"format":"d","labelOverlap":false,"labelFontSize":13,"titleFontSize":16,"titlePadding":0}},"y":{"field":"v","type":"quantitative","title":"Residual (m/s)"},"yError":{"field":"e"},"color":{"field":"s","type":"nominal","legend":null,"scale":{"domain":["C","H","P","N1","N3","S"],"range":["#f28c1e","#e0125e","#dc1650","#1e8fff","#1e8fff","#4a2a9e"]}}}},
{"data":{"name":"rv"},"mark":{"type":"point","filled":true,"clip":true,"size":40,"strokeWidth":1,"opacity":1},"encoding":{"x":{"field":"t","type":"quantitative","title":"BJD - 2459230"},"y":{"field":"v","type":"quantitative","title":"Residual (m/s)"},
"fill":{"field":"s","type":"nominal","legend":null,"scale":{"domain":["C","H","P","N1","N3","S"],"range":["#e8470c","#cf0a35","#cf0a35","#1e88ff","#1e88ff","#2f0a8f"]}},
"stroke":{"field":"s","type":"nominal","legend":null,"scale":{"domain":["C","H","P","N1","N3","S"],"range":["#f06a10","#cf0a35","#cf0a35","#1e88ff","#1e88ff","#2f0a8f"]}},
"shape":{"field":"s","type":"nominal","legend":null,"scale":{"domain":["C","H","P","N1","N3","S"],"range":["circle","triangle-down","triangle-up","triangle-left","triangle-right","M0,-1L0.95,-0.31L0.59,0.81L-0.59,0.81L-0.95,-0.31Z"]}}}}
]}
]},
{"width":768,"height":228,"layer":[
{"data":{"name":"phase"},"mark":{"type":"errorbar","clip":true,"rule":{"strokeWidth":1.5,"opacity":0.38}},"encoding":{"x":{"field":"p","type":"quantitative","title":"Orbital Phase"},"y":{"field":"v","type":"quantitative","title":"RV (m/s)"},"yError":{"field":"e"},"color":{"field":"s","type":"nominal","legend":null,"scale":{"domain":["C","H","P","N1","N3","S"],"range":["#f28c1e","#e0125e","#dc1650","#1e8fff","#1e8fff","#5a3aa5"]}}}},
{"data":{"name":"phase"},"mark":{"type":"point","filled":true,"clip":true,"size":55,"strokeWidth":1,"fillOpacity":0.5,"strokeOpacity":0.9},"encoding":{"x":{"field":"p","type":"quantitative","title":"Orbital Phase","scale":{"domain":[0,1],"nice":false,"zero":false},"axis":{"values":[0,0.2,0.4,0.6,0.8,1],"format":".1f","labelOverlap":false,"labelFontSize":13,"titleFontSize":16.5,"titlePadding":0}},"y":{"field":"v","type":"quantitative","title":"RV (m/s)","scale":{"domain":[-6,6],"nice":false,"zero":false},"axis":{"values":[-6,-4,-2,0,2,4,6],"tickCount":10,"labelOverlap":false,"labelFontSize":13,"titleFontSize":16,"titlePadding":3}},
"fill":{"field":"s","type":"nominal","scale":{"domain":["C","H","P","N1","N3","S","Phase Bins"],"range":["#f7931e","#e0156b","#e0156b","#1e90ff","#1e90ff","#5b3ba6","#1e90ff"]},"legend":{"values":["Phase Bins"],"title":null,"orient":"none","legendX":5,"legendY":205,"fillColor":"white","strokeColor":"#ccc","cornerRadius":3,"padding":2,"symbolType":"square","symbolSize":130,"symbolStrokeColor":"black","symbolStrokeWidth":3,"symbolOpacity":1,"labelFontSize":9,"labelColor":"#222","labelOffset":16}},
"stroke":{"field":"s","type":"nominal","legend":null,"scale":{"domain":["C","H","P","N1","N3","S"],"range":["#f0821a","#d8105f","#d8105f","#3aa0ff","#3aa0ff","#6a4fb0"]}},
"shape":{"field":"s","type":"nominal","legend":null,"scale":{"domain":["C","H","P","N1","N3","S"],"range":["circle","triangle-down","triangle-up","triangle-left","triangle-right","M0,-1L0.95,-0.31L0.59,0.81L-0.59,0.81L-0.95,-0.31Z"]}}}},
{"data":{"name":"curve"},"mark":{"type":"line","color":"black","strokeWidth":2.6,"strokeDash":[8,5],"clip":true},"encoding":{"x":{"field":"p","type":"quantitative","title":"Orbital Phase"},"y":{"field":"m","type":"quantitative","title":"RV (m/s)"}}},
{"data":{"name":"bins"},"mark":{"type":"point","filled":true,"shape":"square","size":165,"stroke":"black","strokeWidth":3,"opacity":1},"encoding":{"x":{"field":"p","type":"quantitative","title":"Orbital Phase"},"y":{"field":"v","type":"quantitative","title":"RV (m/s)"},"fill":{"field":"s","type":"nominal","scale":{"domain":["C","H","P","N1","N3","S","Phase Bins"],"range":["#f7931e","#e0156b","#e0156b","#1e90ff","#1e90ff","#5b3ba6","#1e90ff"]}}}}
]}
]}
